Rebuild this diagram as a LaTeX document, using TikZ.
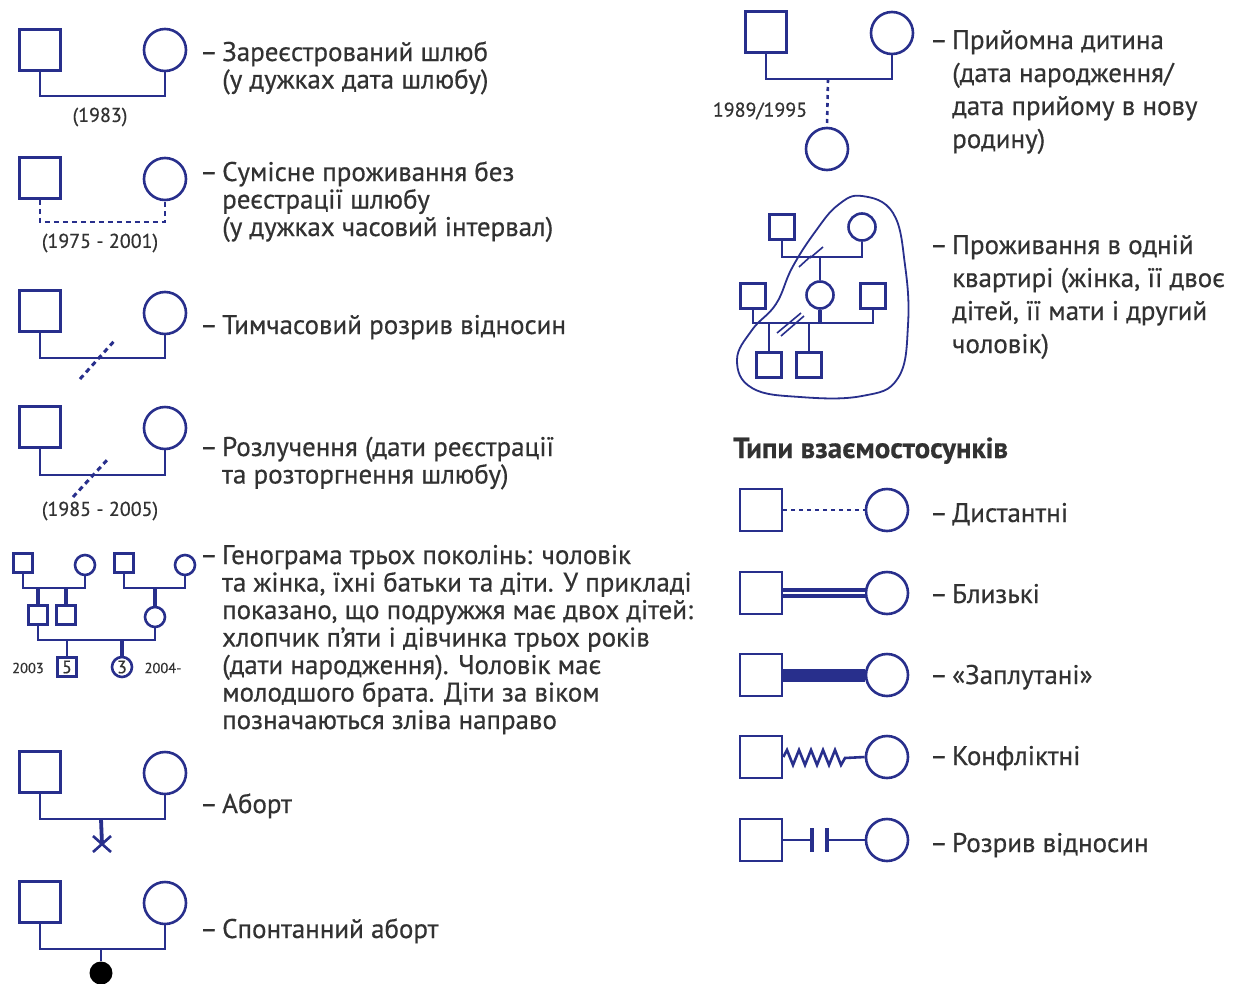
\documentclass[tikz,border=0pt]{standalone}
\usepackage{fontspec}
\setmainfont{PT Sans}[FakeBold=0.4]
\newfontfamily\bodyfont{PT Sans}[FakeBold=0.5]
\usetikzlibrary{calc}
\definecolor{gb}{RGB}{40,47,140}
\definecolor{tx}{RGB}{50,50,50}
\begin{document}
\begin{tikzpicture}[x=1pt,y=-1pt,
  ln/.style={gb,line width=2.6pt},
  thin/.style={gb,line width=1.9pt},
  sq/.style={draw=gb,line width=2.6pt,minimum size=#1,inner sep=0,rectangle},
  sq/.default=41,
  ci/.style={draw=gb,line width=2.6pt,minimum size=#1,inner sep=0,circle},
  ci/.default=42,
  lt/.style={tx,anchor=base west,inner sep=0,font=\bodyfont\fontsize{27}{27}\selectfont},
  lab/.style={tx,inner sep=0,font=\bodyfont\fontsize{20}{22}\selectfont},
  tiny/.style={tx,inner sep=0,font=\bodyfont\fontsize{14.5}{16}\selectfont}
]
\useasboundingbox[fill=white] (0,0) rectangle (1237,983);

% ---------- item 1: registered marriage
\node[sq] (s1) at (40,50) {};
\node[ci] (c1) at (165,50) {};
\coordinate (m1) at (100,96);
\draw[ln] (s1.south) |- (m1) -| (c1.south);
\node[lab] (d1) at (100,117) {(1983)};
\foreach \t [count=\i] in {{\llap{–\,}Зареєстрований шлюб},{(у дужках дата шлюбу)}}
  \node[lt] (t1-\i) at (222,{61+27.5*(\i-1)}) {\t};

% ---------- item 2: cohabitation
\node[sq] (s2) at (40,178) {};
\node[ci] (c2) at (165,179) {};
\coordinate (m2) at (100,222);
\draw[ln,dash pattern=on 5pt off 4pt] (s2.south) |- (m2) -| (c2.south);
\node[lab] (d2) at (100,243) {(1975 - 2001)};
\foreach \t [count=\i] in {{\llap{–\,}Сумісне проживання без},{реєстрації шлюбу},{(у дужках часовий інтервал)}}
  \node[lt] (t2-\i) at (222,{181+27.5*(\i-1)}) {\t};

% ---------- item 3: temporary break
\node[sq] (s3) at (40,311) {};
\node[ci] (c3) at (165,313) {};
\coordinate (m3) at (100,358);
\draw[ln] (s3.south) |- (m3) -| (c3.south);
\draw[ln,line width=3pt,dash pattern=on 5pt off 4pt] (80,379) -- (116,339);
\node[lt] (t3-1) at (222,334) {\llap{–\,}Тимчасовий розрив відносин};

% ---------- item 4: divorce
\node[sq] (s4) at (40,427) {};
\node[ci] (c4) at (165,428) {};
\coordinate (m4) at (100,475);
\draw[ln] (s4.south) |- (m4) -| (c4.south);
\draw[ln,line width=3pt,dash pattern=on 5pt off 4pt] (73,497) -- (108,459);
\node[lab] (d4) at (100,511) {(1985 - 2005)};
\foreach \t [count=\i] in {{\llap{–\,}Розлучення (дати реєстрації},{та розторгнення шлюбу)}}
  \node[lt] (t4-\i) at (222,{456+27.5*(\i-1)}) {\t};

% ---------- item 5: three generations
\begin{scope}[every node/.append style={line width=2pt}]
\node[sq=19] (g1) at (23,563) {};
\node[ci=20] (g2) at (85,565) {};
\node[sq=19] (g3) at (124,563) {};
\node[ci=20] (g4) at (185,565) {};
\node[sq=19] (g5) at (38,615) {};
\node[sq=19] (g6) at (66,615) {};
\node[ci=20] (g7) at (155,617) {};
\node[sq=19,font=\bodyfont\fontsize{18}{18}\selectfont,text=tx] (g8) at (67,667) {5};
\node[ci=20,font=\bodyfont\fontsize{18}{18}\selectfont,text=tx] (g9) at (122,667) {3};
\end{scope}
\coordinate (m5a) at (50,588);
\coordinate (m5b) at (155,588);
\coordinate (m5c) at (100,640);
\draw[thin] (g1.south) |- (m5a) -| (g2.south);
\draw[thin] (g3.south) |- (m5b) -| (g4.south);
\draw[gb,line width=3.8pt] (g5.north |- m5a) -- (g5.north);
\draw[gb,line width=3.8pt] (g6.north |- m5a) -- (g6.north);
\draw[gb,line width=3.8pt] (m5b) -- (g7.north);
\draw[thin] (g5.south) |- (m5c) -| (g7.south);
\draw[gb,line width=2.6pt] (g8.north |- m5c) -- (g8.north);
\draw[gb,line width=3.8pt] (g9.north |- m5c) -- (g9.north);
\node[tiny] (y1) at (28,668) {2003};
\node[tiny] (y2) at (163,668) {2004-};
\foreach \t [count=\i] in {{\llap{–\,}Генограма трьох поколінь: чоловік},{та жінка, їхні батьки та діти. У прикладі},{показано, що подружжя має двох дітей:},{хлопчик п’яти і дівчинка трьох років},{(дати народження). Чоловік має},{молодшого брата. Діти за віком},{позначаються зліва направо}}
  \node[lt] (t5-\i) at (222,{564+27.5*(\i-1)}) {\t};

% ---------- item 6: abortion
\node[sq] (s6) at (40,772) {};
\node[ci] (c6) at (165,773) {};
\coordinate (m6) at (101,819);
\coordinate (x6) at (102,844);
\draw[ln] (s6.south) |- (m6) -| (c6.south);
\draw[gb,line width=3.8pt] (m6) -- (x6);
\draw[ln] ($(x6)+(-9,-8)$) -- ($(x6)+(9,8)$) ($(x6)+(-9,8)$) -- ($(x6)+(9,-8)$);
\node[lt] (t6-1) at (222,813) {\llap{–\,}Аборт};

% ---------- item 7: spontaneous abortion
\node[sq] (s7) at (40,902) {};
\node[ci] (c7) at (165,903) {};
\coordinate (m7) at (101,949);
\node[circle,fill=black,minimum size=23,inner sep=0] (b7) at (101,973) {};
\draw[ln] (s7.south) |- (m7) -| (c7.south);
\draw[ln] (m7) -- (b7.north);
\node[lt] (t7-1) at (222,938) {\llap{–\,}Спонтанний аборт};

% ---------- adopted child
\node[sq] (a1) at (766,32) {};
\node[ci] (a2) at (892,33) {};
\coordinate (ma) at (828,79);
\node[ci] (a3) at (827,149) {};
\draw[ln] (a1.south) |- (ma) -| (a2.south);
\draw[ln,dash pattern=on 4pt off 4pt] (ma) -- (a3.north);
\node[lab] (da) at (760,111) {1989/1995};
\foreach \t [count=\i] in {{\llap{–\,}Прийомна дитина},{(дата народження/},{дата прийому в нову},{родину)}}
  \node[lt] (ta-\i) at (952,{49+33*(\i-1)}) {\t};

% ---------- shared apartment
\begin{scope}[every node/.append style={line width=1.9pt}]
\node[sq=25] (p1) at (782,227) {};
\node[ci=27] (p2) at (862,227) {};
\node[ci=27] (p3) at (820,295) {};
\node[sq=25] (p4) at (753,296) {};
\node[sq=25] (p5) at (873,296) {};
\node[sq=25] (p6) at (769,365) {};
\node[sq=25] (p7) at (809,365) {};
\end{scope}
\coordinate (mp1) at (820,257);
\coordinate (mp2) at (820,323);
\draw[thin] (p1.south) |- (mp1) -| (p2.south);
\draw[thin] (mp1) -- (p3.north);
\draw[thin] (p4.south) |- (mp2) -| (p5.south);
\draw[gb,line width=3.6pt] (p3.south) -- (mp2);
\draw[thin] (p6.north |- mp2) -- (p6.north);
\draw[thin] (p7.north |- mp2) -- (p7.north);
\draw[gb,line width=1.6pt] (799,267) -- (811,256) (810,258) -- (823,247)
  (777,333) -- (801,313) (781,336) -- (804,316);
\draw[gb,line width=1.8pt] plot[smooth cycle,tension=0.7] coordinates {
  (862,196) (893,213) (905,265) (908,325) (898,378) (862,396) (800,397)
  (752,388) (737,360) (752,330) (776,304) (792,268) (815,232) (838,205)};
\foreach \t [count=\i] in {{\llap{–\,}Проживання в одній},{квартирі (жінка, її двоє},{дітей, її мати і другий},{чоловік)}}
  \node[lt] (tp-\i) at (952,{254+33*(\i-1)}) {\t};

% ---------- relationship types
\node[tx,anchor=base west,inner sep=0,font=\fontsize{29}{29}\selectfont\bfseries] (ti) at (733,458) {Типи взаємостосунків};
\foreach \y [count=\i] in {510,593,675,757,840}{
  \node[sq=42] (q\i) at (761,\y) {};
  \node[ci] (k\i) at (887,\y) {};
}
\draw[gb,line width=2.4pt,dash pattern=on 4pt off 4pt] (q1.east) -- (k1.west);
\draw[gb,line width=3.4pt,double=white,double distance=2.6pt] (q2.east) -- (k2.west);
\draw[gb,line width=13pt] (q3.east) -- (k3.west);
\draw[ln,line join=miter] (q4.east) -- (787,750) -- (793,765) -- (799,750) -- (805,765) -- (811,750) -- (817,765)
  -- (823,750) -- (829,765) -- (835,750) -- (841,765) -- (845,758) -- (k4.west);
\coordinate (r5a) at (812,840);
\coordinate (r5b) at (827,840);
\draw[ln] (q5.east) -- (r5a);
\draw[gb,line width=3.8pt] ($(r5a)+(0,-12)$) -- ($(r5a)+(0,12)$);
\draw[gb,line width=3.8pt] ($(r5b)+(0,-12)$) -- ($(r5b)+(0,12)$);
\draw[ln] (r5b) -- (k5.west);
\foreach \t/\y [count=\i] in {{Дистантні}/522,{Близькі}/603,{«Заплутані»}/684,{Конфліктні}/765,{Розрив відносин}/852}
  \node[lt] (tr-\i) at (952,\y) {\llap{–\,}\t};
\end{tikzpicture}
\end{document}
